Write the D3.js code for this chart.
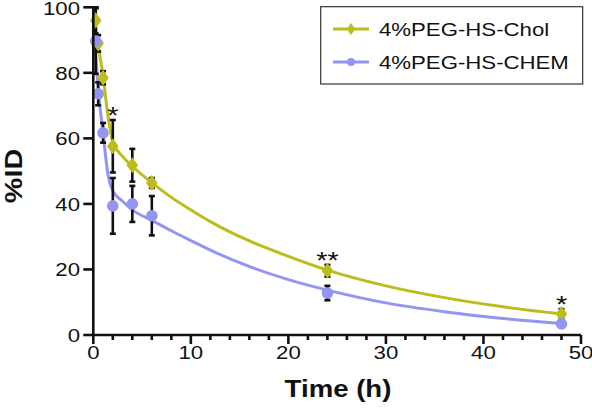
<!DOCTYPE html>
<html><head><meta charset="utf-8">
<script src="https://cdn.jsdelivr.net/npm/d3@7"></script>
<style>body{margin:0;background:#fff}svg{display:block}text{font-family:"Liberation Sans",Arial,sans-serif}</style>
</head><body><svg id="c" width="592" height="410"></svg>
<script>
// ---- data ----
const times = [0.25, 0.5, 1, 2, 4, 6, 24, 48];
const cholMean = [96, 89, 78.5, 57.6, 51.8, 46.4, 19.6, 6.4];
const cholErr  = [4, 2.5, 2, 8, 5, 1.5, 1.8, 1.5];
const chemMean = [89.7, 73.6, 61.7, 39.4, 40, 36.4, 12.8, 3.4];
const chemErr  = [10, 3.5, 3, 8.5, 5.5, 6, 2.2, 0.6];
const fitTimes = [0, 0.25, 0.5, 1, 1.5, 2, 3, 4, 6, 8, 10, 12, 16, 20, 24, 30, 36, 42, 48];
const cholFit  = [98, 94, 88.5, 79, 67, 59, 54.5, 51.5, 46.5, 42, 38.2, 34.6, 28.7, 24, 19.8, 15, 11.4, 8.6, 6.4];
const chemFit  = [93, 86, 75, 61.7, 49, 44, 40.8, 38.2, 35, 31.8, 28.8, 25.9, 20.9, 16.9, 13.7, 9.8, 7.1, 5.0, 3.5];
const seriesNames = ["4%PEG-HS-Chol", "4%PEG-HS-CHEM"];
const colors = ["#bcbc1c", "#9494f2"];
const yTicks = [0, 20, 40, 60, 80, 100];
const xTicks = [0, 10, 20, 30, 40, 50];
const xMinorTicks = d3.range(0, 51, 2);
const sigLabels = [{t: 2, v: 65.7, s: "*"}, {t: 24, v: 21.4, s: "**"}, {t: 48, v: 7.9, s: "*"}];

// ---- chart ----
const svg = d3.select("#c");
const x = d3.scaleLinear().domain([0, 50]).range([93.3, 581]);
const y = d3.scaleLinear().domain([0, 100]).range([335, 7.3]);
const SX = 1.2;

function stext(g, tx, ty, str, size, anchor, weight, rot) {
  const gg = g.append("g").attr("transform", `translate(${tx},${ty})${rot ? " rotate(" + rot + ")" : ""} scale(${SX},1)`);
  gg.append("text").attr("text-anchor", anchor).attr("font-size", size)
    .attr("font-weight", weight || "normal").attr("fill", "#111").text(str);
  return gg;
}

// fit curves
const line = d3.line().x((d, i) => x(fitTimes[i])).y(d => y(d)).curve(d3.curveMonotoneX);
[cholFit, chemFit].forEach((f, k) => {
  svg.append("path").attr("d", line(f)).attr("fill", "none")
    .attr("stroke", colors[k]).attr("stroke-width", 3);
});

// error bars
[[cholMean, cholErr], [chemMean, chemErr]].forEach(([m, e]) => {
  const g = svg.append("g").attr("stroke", "#111").attr("stroke-width", 2.6);
  times.forEach((t, i) => {
    const cx = x(t), y1 = y(m[i] + e[i]), y0 = y(m[i] - e[i]);
    g.append("line").attr("x1", cx).attr("x2", cx).attr("y1", y1).attr("y2", y0);
    g.append("line").attr("x1", cx - 3).attr("x2", cx + 3).attr("y1", y1).attr("y2", y1);
    g.append("line").attr("x1", cx - 3).attr("x2", cx + 3).attr("y1", y0).attr("y2", y0);
  });
});

// markers
const diamond = d3.symbol().type(d3.symbolDiamond).size(75);
svg.append("g").selectAll("path").data(cholMean).join("path")
  .attr("d", diamond).attr("fill", colors[0])
  .attr("transform", (d, i) => `translate(${x(times[i])},${y(d)}) scale(1.25,1)`);
svg.append("g").selectAll("circle").data(chemMean).join("circle")
  .attr("cx", (d, i) => x(times[i])).attr("cy", d => y(d)).attr("r", 5.8).attr("fill", colors[1]);

// axes
const ax = svg.append("g").attr("stroke", "#111").attr("stroke-width", 2.6);
ax.append("line").attr("x1", x(0)).attr("x2", x(50)).attr("y1", y(0)).attr("y2", y(0));
ax.append("line").attr("x1", x(0)).attr("x2", x(0)).attr("y1", y(0)).attr("y2", y(100) - 1);
yTicks.forEach(v => ax.append("line").attr("x1", x(0) - 10).attr("x2", x(0)).attr("y1", y(v)).attr("y2", y(v)));
xMinorTicks.forEach(v => {
  const major = v % 10 === 0;
  ax.append("line").attr("x1", x(v)).attr("x2", x(v)).attr("y1", y(0)).attr("y2", y(0) + (major ? 9 : 5));
});
yTicks.forEach(v => stext(svg, 80, Math.max(y(v) + 7, 15), String(v), 18.5, "end"));
xTicks.forEach(v => stext(svg, x(v), 359, String(v), 18.5, "middle"));
stext(svg, 338, 397, "Time (h)", 23, "middle", "bold");
stext(svg, 22, 176, "%ID", 24, "middle", "bold", -90);

// significance marks
sigLabels.forEach(s => stext(svg, x(s.t), y(s.v) + 4, s.s, 24, "middle"));

// legend
svg.append("rect").attr("x", 320.7).attr("y", 6.7).attr("width", 262).attr("height", 77.3)
  .attr("fill", "#fff").attr("stroke", "#333").attr("stroke-width", 1.2);
[29, 62].forEach((ly, k) => {
  svg.append("line").attr("x1", 333).attr("x2", 369).attr("y1", ly).attr("y2", ly)
    .attr("stroke", colors[k]).attr("stroke-width", 3);
  if (k === 0) svg.append("path").attr("d", d3.symbol().type(d3.symbolDiamond).size(40)).attr("fill", colors[0])
    .attr("transform", `translate(351,${ly}) scale(1.25,1)`);
  else svg.append("circle").attr("cx", 351).attr("cy", ly).attr("r", 4).attr("fill", colors[1]);
  stext(svg, 379, ly + 7, seriesNames[k], 18.5, "start");
});
</script></body></html>
